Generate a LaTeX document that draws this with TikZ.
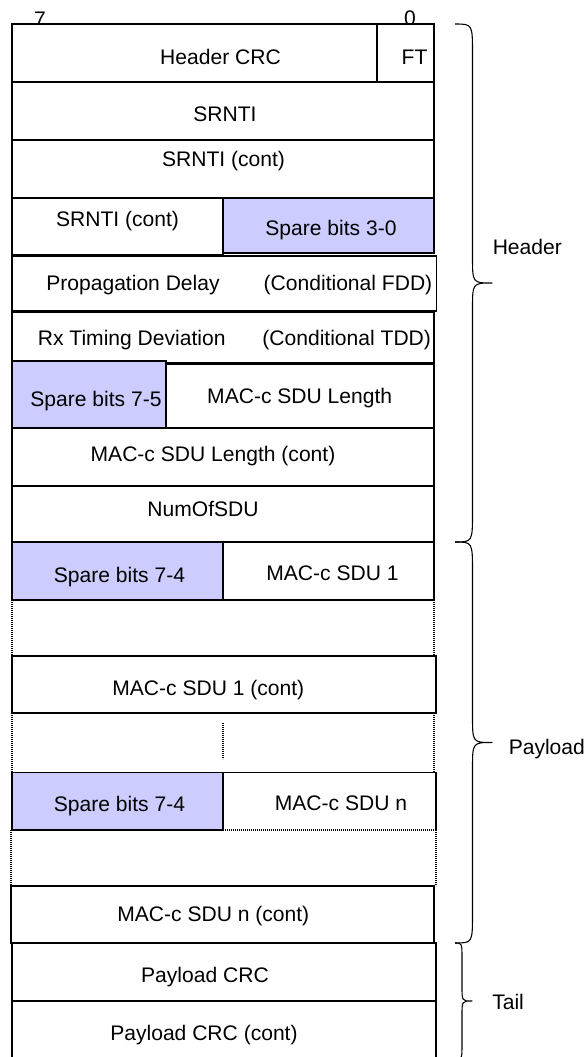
\documentclass[tikz,border=0pt]{standalone}
\usepackage{fontspec}
\setmainfont{Liberation Sans}
\definecolor{sparefill}{RGB}{204,204,255}
\begin{document}
\begin{tikzpicture}[x=0.75pt,y=-0.75pt,
  cell/.style={draw=black, line width=0.8pt, fill=white},
  spare/.style={draw=black, line width=0.8pt, fill=sparefill},
  dotline/.style={draw=black, line width=0.8pt, dash pattern=on 0.8pt off 0.7pt},
  solidline/.style={draw=black, line width=0.8pt},
  lbl/.style={anchor=base, inner sep=0pt, font=\fontsize{15.8}{19}\selectfont},
  side/.style={anchor=base west, inner sep=0pt, font=\fontsize{15.8}{19}\selectfont},
  bracestyle/.style={draw=black, line width=0.8pt, line join=round}]
\useasboundingbox (0,0) rectangle (586,1057);
\fill[white] (0,0) rectangle (586,1057);

% bit numbers
\node[lbl] (b7) at (40,26.5) {7};
\node[lbl] (b0) at (410,25) {0};

% header rows
\draw[cell] (12,24) rectangle (377,82);
\draw[cell] (377,24) rectangle (434,82);
\draw[cell] (12,82) rectangle (434,140);
\draw[cell] (12,140) rectangle (434,198);
\draw[cell] (12,198) rectangle (223,255);
\draw[spare] (223,198.5) rectangle (434,253);
\draw[cell] (12,256) rectangle (436.5,311);
\draw[cell] (12,312) rectangle (434,363);
\draw[cell] (166,364) rectangle (434,428);
\draw[spare] (12,361) rectangle (166,428);
\draw[cell] (12,428) rectangle (434,486);
\draw[cell] (12,486) rectangle (434,542);

% payload
\draw[cell] (223,542.5) rectangle (434,600);
\draw[spare] (12,542.5) rectangle (223,600);
\draw[dotline] (12,600) -- (12,656);
\draw[dotline] (434,600) -- (434,656);
\draw[cell] (12,656) rectangle (436,713);
\draw[dotline] (12,713) -- (12,772);
\draw[dotline] (434,713) -- (434,772);
\draw[dotline] (223,723) -- (223,759);
\draw[solidline] (223,772.5) -- (436,772.5) -- (436,830);
\draw[dotline] (223,830) -- (436,830);
\draw[spare] (12,772.5) rectangle (223,830);
\draw[dotline] (11,830) -- (11,886);
\draw[dotline] (436,830) -- (436,886);
\draw[cell] (11,886) rectangle (434,943);

% tail
\draw[cell] (12,943) rectangle (436,1001);
\draw[cell] (12,1001) rectangle (436,1075);

% texts
\node[lbl] (hcrc) at (220.5,64) {Header CRC};
\node[lbl] (ft) at (414.5,64) {FT};
\node[lbl] (srnti) at (225,121.5) {SRNTI};
\node[lbl] (srnti2) at (223.5,166) {SRNTI (cont)};
\node[lbl] (srnti3) at (117.5,226.5) {SRNTI (cont)};
\node[lbl] (sp30) at (331,235) {Spare bits 3-0};
\node[lbl] (pd) at (133,290) {Propagation Delay};
\node[lbl] (cfdd) at (348,290) {(Conditional FDD)};
\node[lbl] (rx) at (131.7,345) {Rx Timing Deviation};
\node[lbl] (ctdd) at (346.7,345) {(Conditional TDD)};
\node[lbl] (sp75) at (96,406.5) {Spare bits 7-5};
\node[lbl] (len) at (299.7,403.3) {MAC-c SDU Length};
\node[lbl] (len2) at (213,461) {MAC-c SDU Length (cont)};
\node[lbl] (num) at (203,516.7) {NumOfSDU};
\node[lbl] (sp74a) at (119.5,582.7) {Spare bits 7-4};
\node[lbl] (sdu1) at (332.5,580) {MAC-c SDU 1};
\node[lbl] (sdu1c) at (208.3,695) {MAC-c SDU 1 (cont)};
\node[lbl] (sp74b) at (119.5,811.7) {Spare bits 7-4};
\node[lbl] (sdun) at (341,810) {MAC-c SDU n};
\node[lbl] (sdunc) at (213.3,921.7) {MAC-c SDU n (cont)};
\node[lbl] (pcrc) at (205,982.7) {Payload CRC};
\node[lbl] (pcrc2) at (204,1040) {Payload CRC (cont)};

% braces
\draw[bracestyle] (455,24) .. controls (472.5,24) .. (472.5,54) -- (472.5,257)
  .. controls (472.5,283) .. (492,283) .. controls (472.5,283) .. (472.5,309)
  -- (472.5,512) .. controls (472.5,542) .. (455,542);
\draw[bracestyle] (455,542) .. controls (472.5,542) .. (472.5,572) -- (472.5,716)
  .. controls (472.5,742.5) .. (492,742.5) .. controls (472.5,742.5) .. (472.5,769)
  -- (472.5,913) .. controls (472.5,943) .. (455,943);
\draw[bracestyle] (455,943) .. controls (462,943) .. (462,958) -- (462,987)
  .. controls (462,1001) .. (472,1001) .. controls (462,1001) .. (462,1015)
  -- (462,1044) .. controls (462,1059) .. (455,1059);

\node[side] (hdr) at (492.5,254) {Header};
\node[side] (pay) at (508.5,754) {Payload};
\node[side] (tail) at (492,1009) {Tail};
\end{tikzpicture}
\end{document}
